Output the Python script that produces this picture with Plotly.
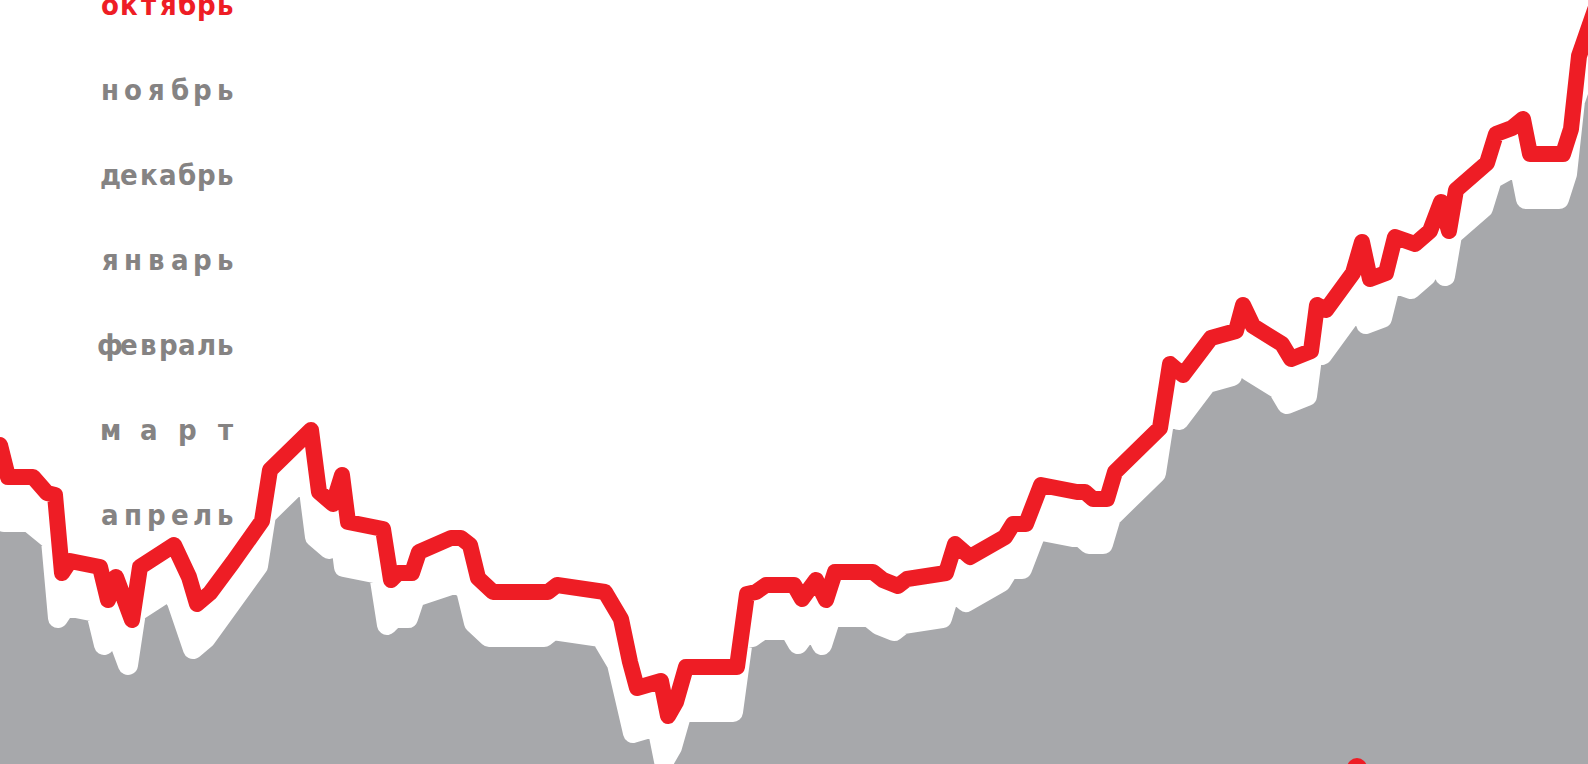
import plotly.graph_objects as go

# day positions and index values of the series
days = [0,8,33,47,55,62,70,100,108,116,132,140,174,181,189,197,210,233,250,262,
        270,278,311,319,333,342,348,383,391,398,412,419,451,461,470,478,493,548,557,605,
        621,630,637,661,668,676,686,737,747,756,766,794,802,816,826,835,873,883,898,907,
        946,955,970,1005,1013,1026,1041,1077,1085,1093,1107,1115,1131,1145,1160,1170,1183,1211,1228,1236,1243,
        1253,1282,1291,1311,1317,1326,1353,1362,1370,1386,1395,1415,1430,1441,1449,1456,1487,1496,1512,1523,
        1530,1563,1571,1579,1595]
values = [319,287,287,271,269,191,203,197,164,187,
          144,197,219,207,187,160,171,202,224,243,
          294,301,334,272,260,289,242,235,184,191,
          191,212,226,226,219,186,172,172,179,172,
          145,102,76,83,48,62,97,97,170,172,
          179,179,165,184,164,192,192,184,178,185,
          191,220,207,227,240,240,279,272,272,265,
          265,292,308,323,336,400,389,426,433,433,459,
          438,420,405,413,459,454,491,522,485,491,
          527,520,533,562,533,574,601,630,636,645,
          610,610,635,708,754]

marker_day = [1357]
marker_value = [-4]

months = ["октябрь", "ноябрь", "декабрь", "январь", "февраль", "март", "апрель"]

RED = "#ee1d25"
GRAY_FILL = "#a7a8ab"
GRAY_TEXT = "#858383"

fig = go.Figure()

# gray shadow area: same series drawn on the base axes whose ranges are offset
fig.add_trace(go.Scatter(
    x=days, y=values, xaxis="x", yaxis="y",
    mode="lines", fill="tozeroy", fillcolor=GRAY_FILL,
    line=dict(color="white", width=20), hoverinfo="skip", showlegend=False))

# red line on the overlay axes (drawn on top)
fig.add_trace(go.Scatter(
    x=days, y=values, xaxis="x2", yaxis="y2", mode="lines",
    line=dict(color=RED, width=16), showlegend=False))

fig.add_trace(go.Scatter(
    x=marker_day, y=marker_value, xaxis="x2", yaxis="y2", mode="markers",
    marker=dict(color=RED, size=20), showlegend=False))

W, H = 1588, 764
annotations = []
left_c, right_c = 110, 226
label_y0 = 5   # pixel centre of the top label
step = 85
for k, m in enumerate(months):
    n = len(m)
    col = RED if k == 0 else GRAY_TEXT
    py = label_y0 + k * step
    for i, ch in enumerate(m):
        xc = left_c + i * (right_c - left_c) / (n - 1)
        annotations.append(dict(
            x=xc / W, y=1 - py / H, xref="paper", yref="paper", text=ch,
            showarrow=False, xanchor="center", yanchor="middle",
            font=dict(family="DejaVu Sans Condensed, Open Sans, sans-serif",
                      size=29, color=col, weight="bold")))

fig.update_layout(
    width=W, height=H,
    margin=dict(l=0, r=0, t=0, b=0),
    paper_bgcolor="white", plot_bgcolor="white",
    xaxis=dict(range=[4, 1592], visible=False, fixedrange=True),
    yaxis=dict(range=[45, 809], visible=False, fixedrange=True),
    xaxis2=dict(range=[0, 1588], visible=False, overlaying="x", fixedrange=True),
    yaxis2=dict(range=[0, 764], visible=False, overlaying="y", fixedrange=True),
    annotations=annotations,
    showlegend=False,
)

post = """
document.body.style.margin='0';
document.body.style.overflow='hidden';
var st=document.createElement('style');
st.innerHTML='.js-line{stroke-linejoin:round !important;stroke-linecap:round !important;}';
document.head.appendChild(st);
"""

fig.write_html("out.html", post_script=post, config={"displayModeBar": False})
